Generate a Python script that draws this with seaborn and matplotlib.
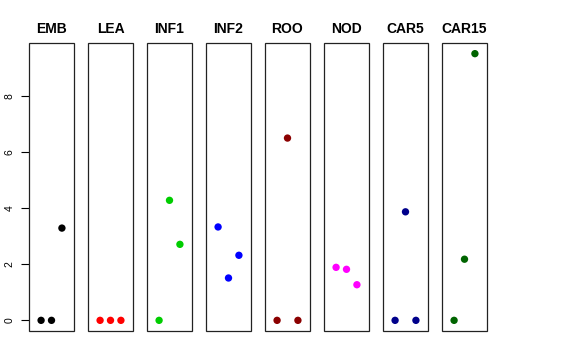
import pandas as pd
import matplotlib.pyplot as plt
import matplotlib.patches as mpatches
import seaborn as sns

tissues = ["EMB", "LEA", "INF1", "INF2", "ROO", "NOD", "CAR5", "CAR15"]
colors = ["#000000", "#FF0000", "#00CD00", "#0000FF", "#8B0000", "#FF00FF", "#00008B", "#006400"]
replicate = [1, 2, 3]

emb = [0, 0, 3.29]
lea = [0, 0, 0]
inf1 = [0, 4.28, 2.71]
inf2 = [3.33, 1.51, 2.32]
roo = [0, 6.5, 0]
nod = [1.89, 1.82, 1.27]
car5 = [0, 3.87, 0]
car15 = [0, 2.18, 9.51]

values = [emb, lea, inf1, inf2, roo, nod, car5, car15]

rows = []
for t, v in zip(tissues, values):
    for r, y in zip(replicate, v):
        rows.append({"tissue": t, "rep": r, "expr": y})
df = pd.DataFrame(rows)

sns.set_style("white")
plt.rcParams["font.family"] = ["Liberation Sans", "DejaVu Sans"]

W, H = 576, 360
fig = plt.figure(figsize=(W / 100, H / 100), dpi=100)

ymin, ymax = -0.38, 9.89
left0, pw, step = 29, 45, 59
top, bottom = 43, 331

for i, (t, c) in enumerate(zip(tissues, colors)):
    ax = fig.add_axes([(left0 + i * step) / W, (H - bottom) / H, pw / W, (bottom - top) / H])
    sub = df[df["tissue"] == t]
    sns.scatterplot(data=sub, x="rep", y="expr", color=c, s=28, edgecolor="none", ax=ax)
    ax.set_xlim(-0.16, 4.16)
    ax.set_ylim(ymin, ymax)
    ax.set_xlabel("")
    ax.set_ylabel("")
    ax.set_xticks([])
    ax.set_title(t, fontsize=10, fontweight="bold", pad=7, color="black")
    for s in ax.spines.values():
        s.set_visible(False)
    ax.add_patch(mpatches.Rectangle((0, 0), 1, 1, transform=ax.transAxes, fill=False,
                                    edgecolor="#222222", linewidth=0.9, clip_on=False))
    if i == 0:
        ax.set_yticks([0, 2, 4, 6, 8])
        ax.tick_params(axis="y", left=True, direction="out", length=5.5, width=0.8,
                       color="black", labelcolor="black", labelsize=7.5, pad=5)
        for lab in ax.get_yticklabels():
            lab.set_rotation(90)
            lab.set_va("center")
    else:
        ax.set_yticks([])

fig.savefig("out.png", dpi=100)
